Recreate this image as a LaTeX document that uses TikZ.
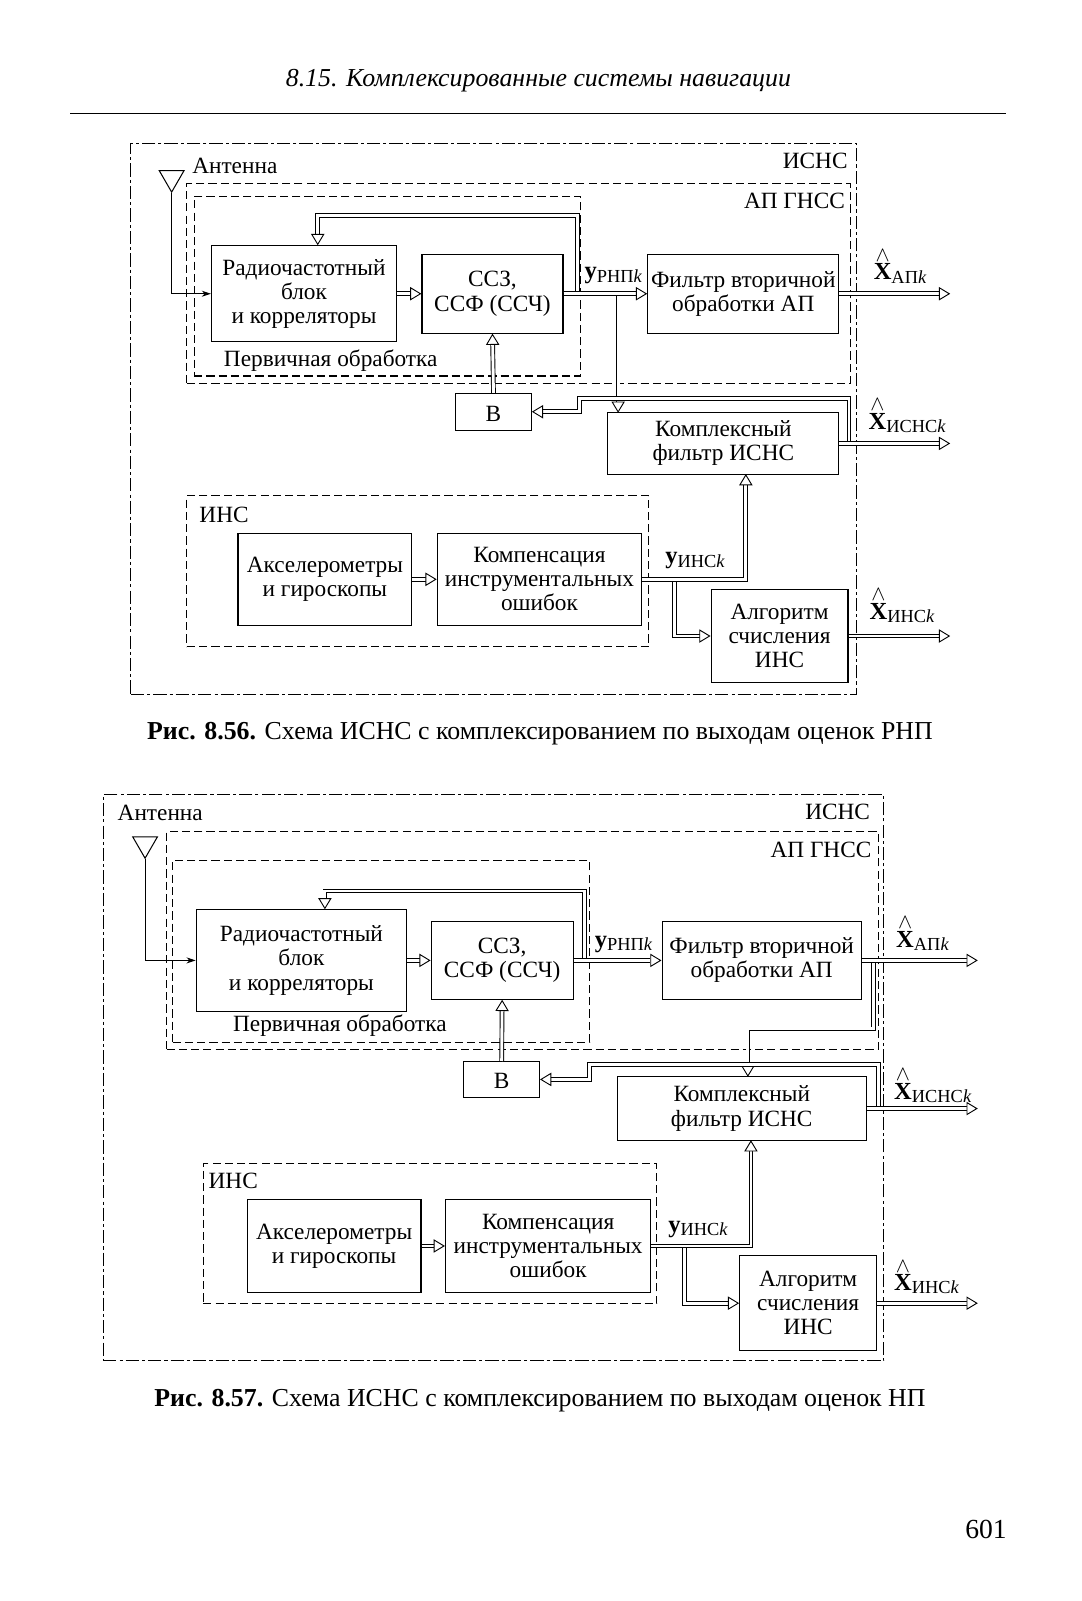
\documentclass[tikz,border=0pt]{standalone}
\usepackage{amsmath}
\usepackage{fontspec}
\setmainfont{Liberation Serif}
\usetikzlibrary{arrows.meta,positioning,shapes.geometric}

\newcommand{\bodyfont}{\fontsize{22.8}{23.6}\selectfont}
\newcommand{\subtext}[1]{\raisebox{-3.5pt}{\fontsize{18}{18}\selectfont #1\textit{k}}}
\newcommand{\outx}[1]{$\overset{\raisebox{-3pt}{$\wedge$}}{\text{\fontsize{24}{24}\selectfont\bfseries X}}$\subtext{#1}}
\newcommand{\outy}[1]{{\fontsize{24}{24}\selectfont\bfseries y}\subtext{#1}}

\tikzset{
	block/.style={draw,line width=1.1pt,align=center,inner sep=0pt,font=\bodyfont,execute at begin node={\rule{0pt}{18.5pt}}},
	groupbox/.style={draw,line width=1pt,dash pattern=on 8pt off 4pt,inner sep=0pt},
	outerbox/.style={draw,line width=1pt,dash pattern=on 13pt off 3pt on 3pt off 3pt,inner sep=0pt},
	caption/.style={font=\fontsize{25.3}{27}\selectfont,inner sep=0pt},
	tag/.style={anchor=base west,inner sep=0pt,font=\bodyfont},
	antenna/.style={draw,line width=1pt,regular polygon,regular polygon sides=3,shape border rotate=180,minimum size=28pt,inner sep=0pt},
	thin link/.style={line width=1pt,-{Stealth[length=9pt,width=6pt]}},
	dbl/.style={line width=.9pt,double,double distance=2.8pt},
	dbl arrow/.style={dbl,-{Triangle[open,fill=white,length=11pt,width=13pt,line width=.9pt]}}
}

\begin{document}
\begin{tikzpicture}[x=1pt,y=-1pt]
	\useasboundingbox (0,0) rectangle (1059,1567);
	\node[font=\fontsize{25.3}{27}\selectfont\itshape] (head) at (527,79) {8.15. Комплексированные системы навигации};
	\coordinate (rule_l) at (69,111);
	\coordinate (rule_r) at (985,111);
	\draw[line width=1pt] (rule_l) -- (rule_r);

	% upper figure
	\node[outerbox,minimum width=710pt,minimum height=540pt] (isns_1) at (483,410) {};
	\node[groupbox,minimum width=649pt,minimum height=195pt] (gnss_1) at (507.5,277.5) {};
	\node[groupbox,minimum width=378pt,minimum height=176pt] (first_1) at (379,280) {};
	\node[groupbox,minimum width=452pt,minimum height=148pt] (ins_1) at (409,559) {};
	\node[antenna] (ant_1) at (168,174) {};
	\node[tag] (lbl_ant_1) at (188,170) {Антенна};
	\node[tag] (lbl_isns_1) at (766,165) {ИСНС};
	\node[tag] (lbl_gnss_1) at (728,204) {АП ГНСС};
	\node[tag] (lbl_first_1) at (219,359) {Первичная обработка};
	\node[tag] (lbl_ins_1) at (195,511) {ИНС};

	\node[block,minimum width=181pt,minimum height=94pt] (rf_1) at (297.5,287.5) {Радиочастотный\\блок\\и корреляторы};
	\node[block,minimum width=138pt,minimum height=77pt] (ssz_1) at (482,287.5) {ССЗ,\\ССФ (ССЧ)};
	\node[block,minimum width=187pt,minimum height=77pt] (filt_1) at (727.5,287.5) {Фильтр вторичной\\обработки АП};
	\node[block,minimum width=74pt,minimum height=36pt] (v_1) at (483,403) {В};
	\node[block,minimum width=226pt,minimum height=60pt] (cplx_1) at (708,434) {Комплексный\\фильтр ИСНС};
	\node[block,minimum width=170pt,minimum height=90pt] (acc_1) at (318,567) {Акселерометры\\и гироскопы};
	\node[block,minimum width=200pt,minimum height=90pt] (comp_1) at (528,567) {Компенсация\\инструментальных\\ошибок};
	\node[block,minimum width=134pt,minimum height=91pt] (alg_1) at (763,622.5) {Алгоритм\\счисления\\ИНС};

	\node[tag] (y_rnp_1) at (572,273) {\outy{РНП}};
	\node[tag] (y_ins_1) at (651,552) {\outy{ИНС}};
	\node[tag] (x_ap_1) at (855,274) {\outx{АП}};
	\node[tag] (x_isns_1) at (850,420) {\outx{ИСНС}};
	\node[tag] (x_ins_1) at (851,606) {\outx{ИНС}};

	\coordinate (fb_1) at (565,211);
	\coordinate (fb_in_1) at (311,240);
	\coordinate (tap_cplx_1) at (605,287.5);
	\coordinate (in_cplx_1) at (605,404);
	\coordinate (riser_1) at (831,434);
	\coordinate (top_v_1) at (567,390);
	\coordinate (in_ins_1) at (730,464);
	\coordinate (tap_alg_1) at (660,567);
	\coordinate (out_ap_1) at (930,287.5);
	\coordinate (out_isns_1) at (930,434);
	\coordinate (out_ins_1) at (930,622.5);

	\draw[thin link] (ant_1.south) |- (rf_1.west);
	\draw[dbl arrow] (rf_1.east) -- (ssz_1.west);
	\draw[dbl arrow] (ssz_1.east) -| (fb_1) -| (fb_in_1);
	\draw[dbl arrow] (tap_cplx_1) -- (in_cplx_1);
	\draw[dbl arrow] (ssz_1.east) -- (filt_1.west);
	\draw[dbl arrow] (filt_1.east) -- (out_ap_1);
	\draw[dbl arrow] (v_1.north) -- (ssz_1.south);
	\draw[dbl arrow] (riser_1) |- (top_v_1) |- (v_1.east);
	\draw[dbl arrow] (cplx_1.east) -- (out_isns_1);
	\draw[dbl arrow] (acc_1.east) -- (comp_1.west);
	\draw[dbl arrow] (tap_alg_1) |- (alg_1.west);
	\draw[dbl arrow] (comp_1.east) -| (in_ins_1);
	\draw[dbl arrow] (alg_1.east) -- (out_ins_1);

	\node[caption] (cap_1) at (528.5,718) {\textbf{Рис. 8.56.} Схема ИСНС с комплексированием по выходам оценок РНП};

	% lower figure
	\node[outerbox,minimum width=764pt,minimum height=554pt] (isns_2) at (483,1055) {};
	\node[groupbox,minimum width=697pt,minimum height=213pt] (gnss_2) at (511.5,920.5) {};
	\node[groupbox,minimum width=408pt,minimum height=178pt] (first_2) at (373,931) {};
	\node[groupbox,minimum width=444pt,minimum height=137pt] (ins_2) at (421,1207.5) {};
	\node[antenna] (ant_2) at (142,826) {};
	\node[tag] (lbl_ant_2) at (115,803) {Антенна};
	\node[tag] (lbl_isns_2) at (788,802) {ИСНС};
	\node[tag] (lbl_gnss_2) at (754,839) {АП ГНСС};
	\node[tag] (lbl_first_2) at (228,1010) {Первичная обработка};
	\node[tag] (lbl_ins_2) at (204,1163) {ИНС};

	\node[block,minimum width=206pt,minimum height=100pt] (rf_2) at (295,940) {Радиочастотный\\блок\\и корреляторы};
	\node[block,minimum width=139pt,minimum height=76pt] (ssz_2) at (491.5,940) {ССЗ,\\ССФ (ССЧ)};
	\node[block,minimum width=195pt,minimum height=76pt] (filt_2) at (745.5,940) {Фильтр вторичной\\обработки АП};
	\node[block,minimum width=74pt,minimum height=35pt] (v_2) at (491,1056.5) {В};
	\node[block,minimum width=244pt,minimum height=62pt] (cplx_2) at (726,1085) {Комплексный\\фильтр ИСНС};
	\node[block,minimum width=170pt,minimum height=91pt] (acc_2) at (327,1219.5) {Акселерометры\\и гироскопы};
	\node[block,minimum width=201pt,minimum height=91pt] (comp_2) at (536.5,1219.5) {Компенсация\\инструментальных\\ошибок};
	\node[block,minimum width=134pt,minimum height=93pt] (alg_2) at (791,1275.5) {Алгоритм\\счисления\\ИНС};

	\node[tag] (y_rnp_2) at (582,927) {\outy{РНП}};
	\node[tag] (y_ins_2) at (654,1206) {\outy{ИНС}};
	\node[tag] (x_ap_2) at (877,927) {\outx{АП}};
	\node[tag] (x_isns_2) at (875,1076) {\outx{ИСНС}};
	\node[tag] (x_ins_2) at (875,1263) {\outx{ИНС}};

	\coordinate (fb_2) at (572,872);
	\coordinate (fb_in_2) at (318,890);
	\coordinate (tap_filt_2) at (855,940);
	\coordinate (mid_filt_2) at (732,1007);
	\coordinate (in_cplx_2) at (732,1054);
	\coordinate (riser_2) at (860,1085);
	\coordinate (top_v_2) at (577,1042);
	\coordinate (in_ins_2) at (735,1116);
	\coordinate (tap_alg_2) at (670,1219.5);
	\coordinate (out_ap_2) at (957,940);
	\coordinate (out_isns_2) at (957,1085);
	\coordinate (out_ins_2) at (957,1275.5);

	\draw[thin link] (ant_2.south) |- (rf_2.west);
	\draw[dbl arrow] (rf_2.east) -- (ssz_2.west);
	\draw[dbl arrow] (ssz_2.east) -| (fb_2) -| (fb_in_2);
	\draw[dbl arrow] (ssz_2.east) -- (filt_2.west);
	\draw[dbl arrow] (tap_filt_2) |- (mid_filt_2) -- (in_cplx_2);
	\draw[dbl arrow] (filt_2.east) -- (out_ap_2);
	\draw[dbl arrow] (v_2.north) -- (ssz_2.south);
	\draw[dbl arrow] (riser_2) |- (top_v_2) |- (v_2.east);
	\draw[dbl arrow] (cplx_2.east) -- (out_isns_2);
	\draw[dbl arrow] (acc_2.east) -- (comp_2.west);
	\draw[dbl arrow] (tap_alg_2) |- (alg_2.west);
	\draw[dbl arrow] (comp_2.east) -| (in_ins_2);
	\draw[dbl arrow] (alg_2.east) -- (out_ins_2);

	\node[caption] (cap_2) at (528.5,1371) {\textbf{Рис. 8.57.} Схема ИСНС с комплексированием по выходам оценок НП};

	\node[font=\fontsize{27}{27}\selectfont] (page) at (965,1497) {601};
\end{tikzpicture}
\end{document}
